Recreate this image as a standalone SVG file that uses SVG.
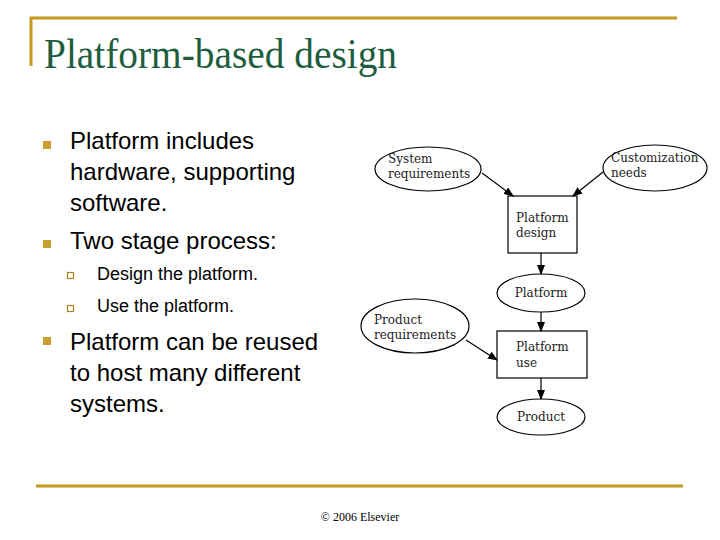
<svg xmlns="http://www.w3.org/2000/svg" width="720" height="540" viewBox="0 0 720 540">
<style>
.gold{stroke:#C49A22;stroke-width:3;fill:none}
.b{font-family:"Liberation Sans",Arial,sans-serif;font-size:24px;fill:#000}
.s{font-family:"Liberation Sans",Arial,sans-serif;font-size:18px;fill:#000}
.n{fill:#fff;stroke:#000;stroke-width:1.2}
.t{font-family:"DejaVu Serif","Liberation Serif",serif;font-size:12px;fill:#222}
.c{stroke:#000;stroke-width:1.2;fill:none;marker-end:url(#a)}
</style>
<defs><marker id="a" markerWidth="10" markerHeight="8" refX="9" refY="4" orient="auto" markerUnits="userSpaceOnUse"><path d="M0,0L10,4L0,8z" fill="#000"/></marker></defs>
<rect width="720" height="540" fill="#fff"/>
<path class="gold" d="M31,66V18H677"/>
<path class="gold" d="M36,486H683"/>
<text x="44" y="68" font-family="'Liberation Serif',serif" font-size="42" fill="#1E5E3E" textLength="353" lengthAdjust="spacingAndGlyphs">Platform-based design</text>
<g fill="#C8A032">
<rect x="43" y="141" width="8" height="8"/><rect x="43" y="240" width="8" height="8"/><rect x="43" y="337" width="8" height="8"/>
</g>
<g fill="none" stroke="#A88420" stroke-width="1.2"><rect x="67.5" y="272.5" width="6" height="6"/><rect x="67.5" y="305.5" width="6" height="6"/></g>
<text class="b" x="70" y="149">Platform includes</text>
<text class="b" x="70" y="180">hardware, supporting</text>
<text class="b" x="70" y="211">software.</text>
<text class="b" x="70" y="249">Two stage process:</text>
<text class="s" x="97" y="280">Design the platform.</text>
<text class="s" x="97" y="312">Use the platform.</text>
<text class="b" x="70" y="350">Platform can be reused</text>
<text class="b" x="70" y="381">to host many different</text>
<text class="b" x="70" y="412">systems.</text>
<g id="sysreq"><ellipse class="n" cx="428" cy="169" rx="53" ry="22"/><text class="t" x="388" y="163">System</text><text class="t" x="388" y="178">requirements</text></g>
<g id="custom"><ellipse class="n" cx="655" cy="168" rx="52" ry="23"/><text class="t" x="611" y="162">Customization</text><text class="t" x="611" y="177">needs</text></g>
<g id="pdesign"><rect class="n" x="508" y="196" width="69" height="57"/><text class="t" x="516" y="222">Platform</text><text class="t" x="516" y="237">design</text></g>
<g id="platform"><ellipse class="n" cx="541" cy="293" rx="44" ry="19"/><text class="t" x="541" y="297" text-anchor="middle">Platform</text></g>
<g id="prodreq"><ellipse class="n" cx="415" cy="326" rx="54" ry="27"/><text class="t" x="374" y="324">Product</text><text class="t" x="374" y="339">requirements</text></g>
<g id="puse"><rect class="n" x="497" y="331" width="90" height="47"/><text class="t" x="516" y="351">Platform</text><text class="t" x="516" y="367">use</text></g>
<g id="product"><ellipse class="n" cx="541" cy="417" rx="44" ry="18"/><text class="t" x="541" y="421" text-anchor="middle">Product</text></g>
<g id="connectors">
<path class="c" d="M482,173L513,196"/>
<path class="c" d="M603,172L573,196"/>
<path class="c" d="M541,253V274"/>
<path class="c" d="M541,312V331"/>
<path class="c" d="M466,340L497,360"/>
<path class="c" d="M541,378V399"/>
</g>
<text x="360" y="521" text-anchor="middle" font-family="'Liberation Serif',serif" font-size="12">© 2006 Elsevier</text>
</svg>
